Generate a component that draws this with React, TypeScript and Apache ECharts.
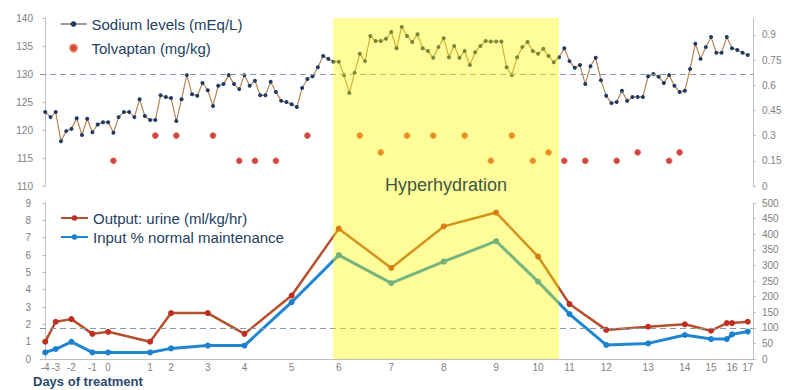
import React, { useEffect, useRef } from 'react';
import * as echarts from 'echarts';

const FONT = 'Liberation Sans';

// Sodium measurements (mEq/L), one per sample slot along the treatment timeline
const sodium = [
  123.2, 122.3, 123.2, 118, 119.8, 120.2, 122.1, 119.1, 122, 119.6,
  121, 121.4, 121.4, 119.5, 122.3, 123.2, 123.2, 122.3, 125.5, 122.5,
  121.8, 121.8, 126.2, 125.9, 125.7, 121.6, 125.5, 129.8, 126.4, 126.1,
  128.4, 127.1, 124.3, 127.9, 128.2, 129.8, 128.2, 127.3, 129.8, 127.9,
  128.8, 126.2, 126.2,
  128.6, 126.8, 125.2, 125, 124.6, 124.1, 127.5, 129.1, 129.6, 131.2,
  133.2, 132.7, 132.2, 132.2, 129.8, 126.6, 130.2, 133.6, 132.3, 136.8,
  135.9, 135.9, 136.3, 137.5, 134.6, 138.4, 136.8, 135.7, 137.1, 134.6,
  134.1, 132.9, 134.8, 136.4, 133, 135, 132.9, 134.1, 131.6, 133.9,
  135, 135.9, 135.8, 135.8, 135.8, 131.2, 129.8, 133, 134.8, 135.7,
  134.1, 133.6, 134.5, 133.2, 132.1, 133, 134.6, 132.3, 131.1, 131.6,
  128.2, 131.4, 132.9, 128.9, 126.1, 124.8, 125, 127, 125.2, 125.9,
  125.9, 125.9, 129.6, 130, 129.5, 128.4, 129.8, 127.9, 126.8, 127,
  130.9,
  135.4, 132.7, 134.8, 136.6, 133.8, 133.8, 136.6, 134.6, 134.3, 133.8, 133.4,
];

// Tolvaptan doses (mg/kg) and the sample slot at which each was given
const tolvaptanIdx = [13, 21, 25, 32, 37, 40, 44, 50, 60, 64, 69, 74, 80, 85, 89, 93, 96, 99, 103, 109, 113, 119, 121];
const tolvaptanDose = [0.15, 0.3, 0.3, 0.3, 0.15, 0.15, 0.15, 0.3, 0.3, 0.2, 0.3, 0.3, 0.3, 0.15, 0.3, 0.15, 0.2, 0.15, 0.15, 0.15, 0.2, 0.15, 0.2];

// Fluid balance measurements: slot, urine output (ml/kg/hr), input (% normal maintenance)
const fluidIdx = [0, 2, 5, 9, 12, 20, 24, 31, 38, 47, 56, 66, 76, 86, 94, 100, 107, 115, 122, 127, 130, 131, 134];
const urineOutput = [1.0, 2.15, 2.3, 1.45, 1.57, 1.0, 2.65, 2.65, 1.45, 3.66, 7.52, 5.25, 7.65, 8.45, 5.91, 3.17, 1.68, 1.86, 2.0, 1.63, 2.07, 2.07, 2.15];
const inputPct = [21, 32, 55, 21, 21, 21, 34, 43, 43, 182, 333, 243, 312, 378, 248, 144, 45, 50, 77, 64, 64, 79, 88];

// Day-of-treatment labels and the slot where each is printed
const dayLabels = ['-4', '-3', '-2', '-1', '0', '1', '2', '3', '4', '5', '6', '7', '8', '9', '10', '11', '12', '13', '14', '15', '16', '17'];
const dayIdx = [0, 2, 5, 9, 12, 20, 24, 31, 38, 47, 56, 66, 76, 86, 94, 100, 107, 115, 122, 127, 131, 134];

// Hyperhydration period (slot range)
const hyperPeriod = [54.9, 98.0];

// Reference levels
const sodiumRef = 130;
const inputRef = 100;

export default function App() {
  const ref = useRef<HTMLDivElement>(null);

  useEffect(() => {
    if (!ref.current) return;
    const chart = echarts.init(ref.current, null, { renderer: 'svg' });
    const dayMap: Record<number, string> = {};
    dayIdx.forEach((ix, k) => {
      dayMap[ix] = dayLabels[k];
    });
    const xMin = -1;
    const xMax = sodium.length;
    const gridL = 40;
    const gridR = 33;
    const axisGray = '#BFBFBF';
    const labelGray = '#7F7F7F';
    const legendText = '#243F60';
    const dashStyle = { color: '#8497B0', width: 1, type: [6, 4] as any };

    const baseY = {
      splitLine: { show: false },
      axisLine: { show: true, lineStyle: { color: axisGray } },
      axisTick: { show: true, length: 3, lineStyle: { color: axisGray } },
      axisLabel: { fontSize: 10, color: labelGray, fontFamily: FONT, margin: 7 },
    };

    const option: any = {
      animation: false,
      backgroundColor: '#ffffff',
      textStyle: { fontFamily: FONT },
      grid: [
        { left: gridL, right: gridR, top: 18, height: 168 },
        { left: gridL, right: gridR, top: 203, height: 156 },
        { left: gridL, right: gridR, top: 18, height: 341 },
      ],
      legend: [
        {
          orient: 'vertical',
          left: 55,
          top: 11,
          itemGap: 8,
          itemWidth: 26,
          itemHeight: 7,
          textStyle: { fontSize: 15, color: legendText, fontFamily: FONT, lineHeight: 16 },
          data: [
            { name: 'Sodium levels (mEq/L)', itemStyle: { color: '#1F3B63' }, lineStyle: { color: '#333333', width: 1 } },
            { name: 'Tolvaptan (mg/kg)' },
          ],
        },
        {
          orient: 'vertical',
          left: 55,
          top: 205,
          itemGap: 3,
          itemWidth: 27,
          itemHeight: 7,
          textStyle: { fontSize: 15, color: legendText, fontFamily: FONT, lineHeight: 16 },
          data: ['Output: urine (ml/kg/hr)', 'Input % normal maintenance'],
        },
      ],
      xAxis: [
        { type: 'value', gridIndex: 0, min: xMin, max: xMax, show: false },
        {
          type: 'value',
          gridIndex: 1,
          min: xMin,
          max: xMax,
          interval: 1,
          splitLine: { show: false },
          axisTick: { show: false },
          axisLine: { show: true, lineStyle: { color: axisGray } },
          axisLabel: {
            fontSize: 10,
            color: labelGray,
            fontFamily: FONT,
            margin: 3,
            formatter: (v: number) => dayMap[Math.round(v)] ?? '',
          },
        },
        { type: 'value', gridIndex: 2, min: xMin, max: xMax, show: false },
      ],
      yAxis: [
        { type: 'value', gridIndex: 0, position: 'left', min: 110, max: 140, interval: 5, ...baseY },
        {
          type: 'value', gridIndex: 0, position: 'right', min: 0, max: 1, interval: 0.15, ...baseY,
          axisLabel: { ...baseY.axisLabel, margin: 9, showMaxLabel: false },
        },
        { type: 'value', gridIndex: 1, position: 'left', min: 0, max: 9, interval: 1, ...baseY,
          axisLabel: { ...baseY.axisLabel, margin: 9 } },
        { type: 'value', gridIndex: 1, position: 'right', min: 0, max: 500, interval: 50, ...baseY,
          axisLabel: { ...baseY.axisLabel, margin: 9 } },
        { type: 'value', gridIndex: 2, min: 0, max: 1, show: false },
      ],
      series: [
        {
          name: 'Sodium levels (mEq/L)',
          type: 'line',
          xAxisIndex: 0,
          yAxisIndex: 0,
          data: sodium.map((v, i) => [i, v]),
          symbol: 'circle',
          symbolSize: 4,
          showAllSymbol: true,
          itemStyle: { color: '#1F3B63' },
          lineStyle: { color: '#B48556', width: 1.2 },
          z: 3,
          markLine: {
            silent: true,
            symbol: 'none',
            label: { show: false },
            lineStyle: dashStyle,
            data: [{ yAxis: sodiumRef }],
          },
        },
        {
          name: 'Tolvaptan (mg/kg)',
          type: 'scatter',
          xAxisIndex: 0,
          yAxisIndex: 1,
          data: tolvaptanIdx.map((ix, k) => [ix, tolvaptanDose[k]]),
          symbol: 'circle',
          symbolSize: 6,
          itemStyle: { color: '#C4161C', borderColor: '#E8743C', borderWidth: 0.8 },
          z: 3,
        },
        {
          name: 'Output: urine (ml/kg/hr)',
          type: 'line',
          xAxisIndex: 1,
          yAxisIndex: 2,
          data: fluidIdx.map((ix, k) => [ix, urineOutput[k]]),
          symbol: 'circle',
          symbolSize: 6,
          showAllSymbol: true,
          itemStyle: { color: '#BE2E22' },
          lineStyle: { color: '#B4502C', width: 2.5 },
          z: 3,
        },
        {
          name: 'Input % normal maintenance',
          type: 'line',
          xAxisIndex: 1,
          yAxisIndex: 3,
          data: fluidIdx.map((ix, k) => [ix, inputPct[k]]),
          symbol: 'circle',
          symbolSize: 6,
          showAllSymbol: true,
          itemStyle: { color: '#1C80CC' },
          lineStyle: { color: '#1F86D2', width: 3 },
          z: 3,
          markLine: {
            silent: true,
            symbol: 'none',
            label: { show: false },
            lineStyle: dashStyle,
            data: [{ yAxis: inputRef }],
          },
        },
        {
          name: 'Hyperhydration',
          type: 'custom',
          xAxisIndex: 2,
          yAxisIndex: 4,
          z: 10,
          silent: true,
          data: [hyperPeriod],
          encode: { x: [0, 1] },
          renderItem: (params: any, api: any) => {
            const p0 = api.coord([api.value(0), 1]);
            const p1 = api.coord([api.value(1), 0]);
            const ty = api.coord([api.value(0), 0.51])[1];
            return {
              type: 'group',
              children: [
                {
                  type: 'rect',
                  shape: { x: p0[0], y: p0[1], width: p1[0] - p0[0], height: p1[1] - p0[1] },
                  style: { fill: 'rgba(255,250,0,0.4)' },
                },
                {
                  type: 'text',
                  style: {
                    text: 'Hyperhydration',
                    x: (p0[0] + p1[0]) / 2,
                    y: ty,
                    align: 'center',
                    verticalAlign: 'middle',
                    fontSize: 18,
                    fontFamily: FONT,
                    fill: '#3E5745',
                  },
                },
              ],
            };
          },
        },
      ],
      graphic: [
        {
          type: 'text',
          left: 33,
          top: 375,
          style: {
            text: 'Days of treatment',
            font: `bold 13px "${FONT}"`,
            fill: '#2B4A6F',
          },
        },
      ],
    };

    chart.setOption(option);
    return () => chart.dispose();
  }, []);

  return (
    <div
      ref={ref}
      style={{ position: 'fixed', left: 0, top: 0, width: 786, height: 390, background: '#ffffff' }}
    />
  );
}
